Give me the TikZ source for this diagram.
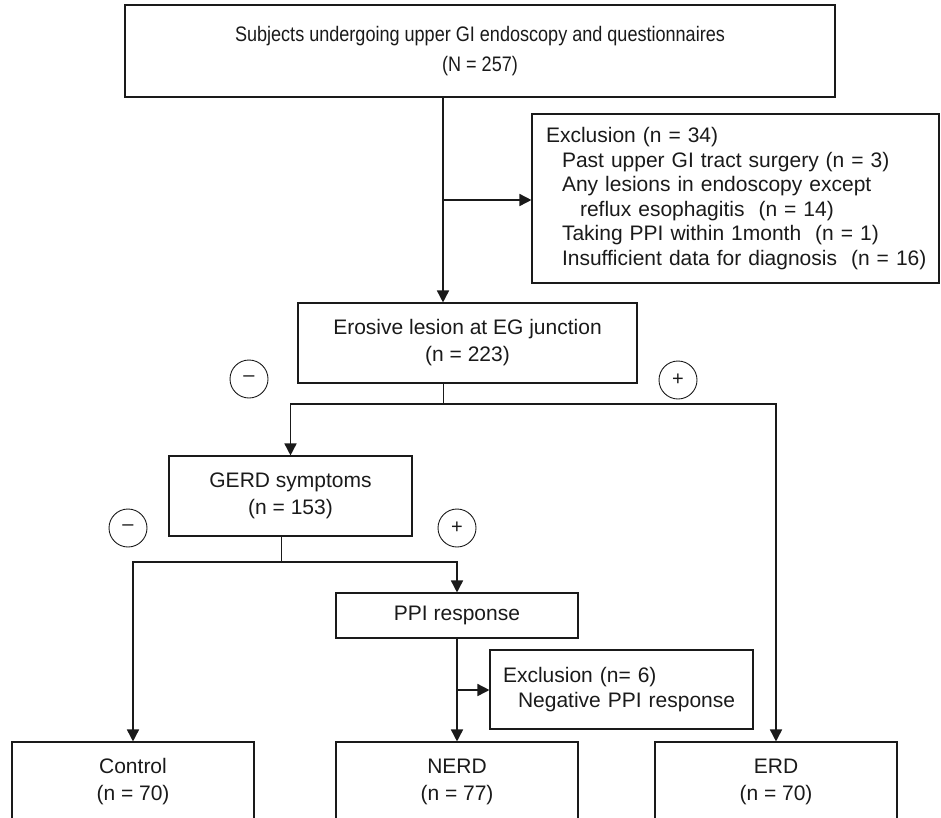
\documentclass[tikz,border=0pt]{standalone}
\usepackage{fontspec}
\setmainfont{Liberation Sans}
\newfontfamily\narrowfont[FakeStretch=0.86]{Liberation Sans}
\usepackage{tikz}
\usetikzlibrary{arrows.meta,positioning}
\definecolor{ink}{HTML}{1A1A1A}
\newcommand{\boxfont}{\fontsize{21}{27}\selectfont}
\newcommand{\exfont}{\fontsize{21}{24.6}\selectfont}
\newcommand{\ind}{\hspace*{7pt}}
\tikzset{
  box/.style={draw=ink, line width=1.1pt, align=center, font=\boxfont, text=ink, inner sep=0pt},
  exbox/.style={draw=ink, line width=1.1pt, align=left, font=\exfont, text=ink, inner ysep=0pt},
  arr/.style={draw=ink, line width=1.6pt, -{Triangle[length=12pt,width=12pt]}},
  stem/.style={draw=ink, line width=0.9pt},
  sign/.style={circle, draw=ink, line width=0.9pt, minimum size=38pt, inner sep=0pt, text=ink, font=\fontsize{20}{20}\selectfont},
}

\begin{document}
\begin{tikzpicture}[x=1pt,y=-1pt]
  \useasboundingbox (0,0) rectangle (941,817);
  \clip (0,0) rectangle (941,817);
  % boxes
  \node[box, font=\narrowfont\fontsize{21}{30}\selectfont, minimum width=710pt, minimum height=92pt] (top) at (480,51)
    {Subjects undergoing upper GI endoscopy and questionnaires\\(N = 257)};
  \node[exbox, text width=393pt, inner xsep=7pt, minimum height=169pt] (exc1) at (735.5,198.5)
    {\ind Exclusion (n = 34)\\
     \ind\hspace*{16pt}Past upper GI tract surgery (n = 3)\\
     \ind\hspace*{16pt}Any lesions in endoscopy except\\
     \ind\hspace*{34pt}reflux esophagitis~ (n = 14)\\
     \ind\hspace*{16pt}Taking PPI within 1month~ (n = 1)\\
     \ind\hspace*{16pt}Insufficient data for diagnosis~ (n = 16)};
  \node[box, minimum width=339pt, minimum height=80pt] (ero) at (467.5,343)
    {Erosive lesion at EG junction\\(n = 223)};
  \node[box, minimum width=243pt, minimum height=80pt] (gerd) at (290.5,496)
    {GERD symptoms\\(n = 153)};
  \node[box, minimum width=242pt, minimum height=45pt] (ppi) at (457,615.5) {PPI response};
  \node[exbox, text width=237pt, inner xsep=13pt, minimum height=79pt] (exc2) at (621.5,689.5)
    {Exclusion (n= 6)\\\hspace*{15pt}Negative PPI response};
  \node[box, minimum width=242pt, minimum height=79pt] (ctrl) at (133,781.5) {Control\\(n = 70)};
  \node[box, minimum width=242pt, minimum height=79pt] (nerd) at (457,781.5) {NERD\\(n = 77)};
  \node[box, minimum width=242pt, minimum height=79pt] (erd) at (776,781.5) {ERD\\(n = 70)};
  % signs
  \node[sign] (neg1) at (249,379) {–};
  \node[sign] (pos1) at (678,380) {+};
  \node[sign] (neg2) at (128,528) {–};
  \node[sign] (pos2) at (457,528) {+};
  % connectors
  \coordinate (t1) at (443,200);
  \coordinate (s1) at (443,404);
  \coordinate (s2) at (281,562);
  \coordinate (t2) at (457,690);
  \draw[arr] (top.south -| t1) -- (ero.north -| t1);
  \draw[arr] (t1) -- (exc1.west |- t1);
  \draw[stem] (ero.south -| s1) -- (s1);
  \draw[arr] (s1) -| (gerd.north);
  \draw[arr] (s1) -| (erd.north);
  \draw[stem] (gerd.south -| s2) -- (s2);
  \draw[arr] (s2) -| (ppi.north);
  \draw[arr] (s2) -| (ctrl.north);
  \draw[arr] (ppi.south) -- (nerd.north);
  \draw[arr] (t2) -- (exc2.west |- t2);
\end{tikzpicture}
\end{document}
